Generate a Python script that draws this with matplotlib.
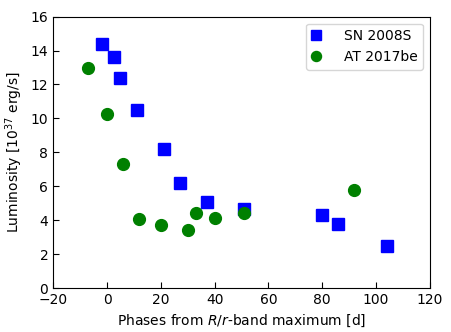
import numpy as np
import matplotlib
matplotlib.use('Agg')
import matplotlib.pyplot as plt

# SN 2008S
sn_phase = [-2, 2.5, 5, 11, 21, 27, 37, 51, 80, 86, 104]
sn_lum = [14.4, 13.6, 12.4, 10.5, 8.2, 6.2, 5.05, 4.65, 4.3, 3.8, 2.5]

# AT 2017be
at_phase = [-7, 0, 6, 12, 20, 30, 33, 40, 51, 92]
at_lum = [13.0, 10.25, 7.3, 4.1, 3.7, 3.4, 4.4, 4.15, 4.4, 5.8]

fig, ax = plt.subplots(figsize=(4.51, 3.32), dpi=100)

ax.plot(sn_phase, sn_lum, 's', color='blue', markersize=8.5, label='SN 2008S')
ax.plot(at_phase, at_lum, 'o', color='green', markersize=8.5, label='AT 2017be')

ax.set_xlim(-20, 120)
ax.set_ylim(0, 16)
ax.set_xticks(np.arange(-20, 121, 20))
ax.set_yticks(np.arange(0, 17, 2))
ax.tick_params(direction='in', length=4)

ax.set_xlabel('Phases from $R/r$-band maximum [d]')
ax.set_ylabel('Luminosity [$10^{37}$ erg/s]')
ax.legend(loc='upper right', numpoints=1, markerscale=0.85,
          handlelength=0.7, handletextpad=1.6)

plt.subplots_adjust(left=0.118, right=0.953, top=0.95, bottom=0.132)
plt.savefig('out.png', dpi=100)
